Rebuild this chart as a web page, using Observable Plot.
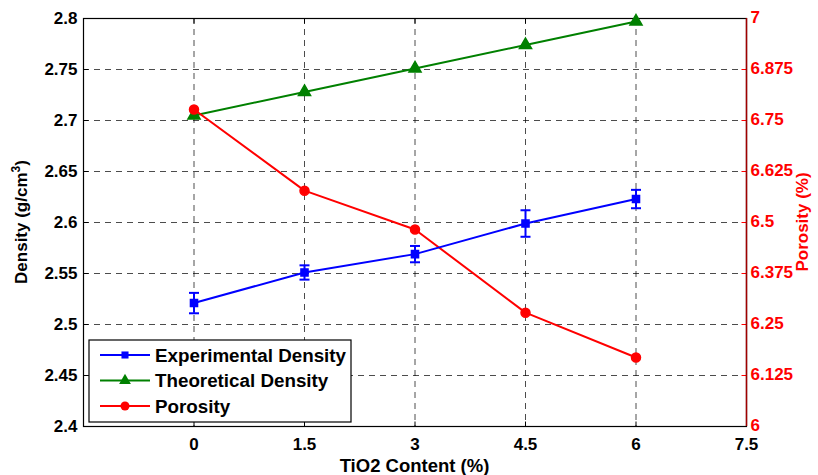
<!DOCTYPE html>
<html>
<head>
<meta charset="utf-8">
<script src="https://cdn.jsdelivr.net/npm/d3@7"></script>
<script src="https://cdn.jsdelivr.net/npm/@observablehq/plot@0.6"></script>
<style>
  html, body { margin: 0; padding: 0; background: #fff; }
  #chart svg { display: block; }
</style>
</head>
<body>
<div id="chart"></div>
<script>
// ---- Data ----
const tio2Content = [0, 1.5, 3, 4.5, 6];
const experimentalDensity = [2.521, 2.551, 2.569, 2.599, 2.623];
const experimentalError = [0.010, 0.007, 0.008, 0.013, 0.009];
const theoreticalDensity = [2.705, 2.728, 2.751, 2.774, 2.797];
const porosity = [6.777, 6.578, 6.483, 6.279, 6.169];

const xTickValues = [0, 1.5, 3, 4.5, 6, 7.5];
const xTickLabels = ["0", "1.5", "3", "4.5", "6", "7.5"];
const densityTicks = [2.4, 2.45, 2.5, 2.55, 2.6, 2.65, 2.7, 2.75, 2.8];
const densityTickLabels = ["2.4", "2.45", "2.5", "2.55", "2.6", "2.65", "2.7", "2.75", "2.8"];
const porosityTicks = [6, 6.125, 6.25, 6.375, 6.5, 6.625, 6.75, 6.875, 7];
const porosityTickLabels = ["6", "6.125", "6.25", "6.375", "6.5", "6.625", "6.75", "6.875", "7"];

const seriesNames = ["Experimental Density", "Theoretical Density", "Porosity"];
const seriesColors = ["#0000ff", "#008000", "#ff0000"];

// ---- Derived tables ----
const densityDomain = [2.4, 2.8];
const porosityDomain = [6, 7];
const toLeft = p => densityDomain[0] + (p - porosityDomain[0]) / (porosityDomain[1] - porosityDomain[0]) * (densityDomain[1] - densityDomain[0]);

const expRows = tio2Content.map((x, i) => ({x, y: experimentalDensity[i], lo: experimentalDensity[i] - experimentalError[i], hi: experimentalDensity[i] + experimentalError[i]}));
const theoRows = tio2Content.map((x, i) => ({x, y: theoreticalDensity[i]}));
const poroRows = tio2Content.map((x, i) => ({x, y: toLeft(porosity[i])}));

const W = 818, H = 475;
const mL = 83, mR = 72, mT = 18, mB = 49;
const xDomain = [-1.5, 7.5];
const pxX = (xDomain[1] - xDomain[0]) / (W - mL - mR);
const pxY = (densityDomain[1] - densityDomain[0]) / (H - mT - mB);
const capHalf = 5 * pxX;
const tickLen = 5;

const font = "'Liberation Sans', Arial, Helvetica, sans-serif";

const chart = Plot.plot({
  width: W, height: H,
  marginLeft: mL, marginRight: mR, marginTop: mT, marginBottom: mB,
  style: {fontFamily: font, fontSize: "17px", fontWeight: "bold", background: "#fff", color: "#000"},
  x: {domain: xDomain},
  y: {domain: densityDomain},
  marks: [
    Plot.gridX(xTickValues.slice(0, 5), {stroke: "#000", strokeOpacity: 0.7, strokeDasharray: "6,5", strokeWidth: 1}),
    Plot.gridY(densityTicks.slice(1, -1), {stroke: "#000", strokeOpacity: 0.7, strokeDasharray: "6,5", strokeWidth: 1}),
    Plot.link(xTickValues, {x1: d => d, x2: d => d, y1: densityDomain[0], y2: densityDomain[0] + tickLen * pxY, stroke: "#000"}),
    Plot.link(xTickValues, {x1: d => d, x2: d => d, y1: densityDomain[1], y2: densityDomain[1] - tickLen * pxY, stroke: "#000"}),
    Plot.link(densityTicks, {x1: xDomain[0], x2: xDomain[0] + tickLen * pxX, y1: d => d, y2: d => d, stroke: "#000"}),
    Plot.link(porosityTicks, {x1: xDomain[1], x2: xDomain[1] - tickLen * pxX, y1: d => toLeft(d), y2: d => toLeft(d), stroke: "#ff0000"}),
    Plot.frame({stroke: "#000", strokeWidth: 1.2}),
    Plot.ruleX([xDomain[1]], {stroke: "#a00000", strokeWidth: 1.5}),
    Plot.axisX(xTickValues, {tickSize: 0, tickPadding: 11, fontSize: 17, fill: "#000",
      tickFormat: (d, i) => xTickLabels[i], label: null}),
    Plot.axisY(densityTicks, {anchor: "left", tickSize: 0, tickPadding: 6, fontSize: 17, fill: "#000",
      tickFormat: (d, i) => densityTickLabels[i], label: null}),
    Plot.axisY(porosityTicks.map(toLeft), {anchor: "right", tickSize: 0, tickPadding: 4, fontSize: 17, fill: "#ff0000",
      dy: -1, tickFormat: (d, i) => porosityTickLabels[i], label: null}),
    Plot.line(theoRows, {x: "x", y: "y", stroke: seriesColors[1], strokeWidth: 2}),
    Plot.dot(theoRows, {x: "x", y: "y", symbol: "triangle", r: 4.5, fill: seriesColors[1], stroke: seriesColors[1]}),
    Plot.line(poroRows, {x: "x", y: "y", stroke: seriesColors[2], strokeWidth: 2}),
    Plot.dot(poroRows, {x: "x", y: "y", symbol: "circle", r: 4.5, fill: seriesColors[2], stroke: seriesColors[2]}),
    Plot.ruleX(expRows, {x: "x", y1: "lo", y2: "hi", stroke: seriesColors[0], strokeWidth: 2}),
    Plot.link(expRows, {x1: d => d.x - capHalf, x2: d => d.x + capHalf, y1: "lo", y2: "lo", stroke: seriesColors[0], strokeWidth: 2}),
    Plot.link(expRows, {x1: d => d.x - capHalf, x2: d => d.x + capHalf, y1: "hi", y2: "hi", stroke: seriesColors[0], strokeWidth: 2}),
    Plot.line(expRows, {x: "x", y: "y", stroke: seriesColors[0], strokeWidth: 2}),
    Plot.dot(expRows, {x: "x", y: "y", symbol: "square", r: 4, fill: seriesColors[0], stroke: seriesColors[0]})
  ]
});

const svg = d3.select(chart);

// ---- Axis titles ----
const titles = svg.append("g").attr("font-family", font).attr("font-weight", "bold").attr("font-size", 17);
const cy = mT + (H - mT - mB) / 2;
const dens = titles.append("text").attr("text-anchor", "middle").attr("fill", "#000")
  .attr("transform", `translate(27,${cy}) rotate(-90)`);
dens.append("tspan").text("Density (g/cm");
dens.append("tspan").attr("font-size", 12).attr("dy", "-0.55em").text("3");
dens.append("tspan").attr("dy", "0.4em").text(")");
titles.append("text").attr("text-anchor", "middle").attr("fill", "#ff0000")
  .attr("transform", `translate(808,${cy}) rotate(-90)`).text("Porosity (%)");
titles.append("text").attr("text-anchor", "middle").attr("fill", "#000").attr("font-size", 18.5)
  .attr("x", mL + (W - mL - mR) / 2).attr("y", 472).text("TiO2 Content (%)");

// ---- Legend ----
const lg = svg.append("g").attr("font-family", font).attr("font-weight", "bold");
const lx = 89, ly = 340, lw = 262, lh = 82;
lg.append("rect").attr("x", lx).attr("y", ly).attr("width", lw).attr("height", lh)
  .attr("fill", "#fff").attr("stroke", "#000").attr("stroke-width", 1.2);
const symbols = [d3.symbolSquare, d3.symbolTriangle, d3.symbolCircle];
const symSizes = [50, 60, 64];
seriesNames.forEach((name, i) => {
  const yy = ly + 15 + i * 25.5;
  lg.append("line").attr("x1", lx + 11).attr("x2", lx + 61).attr("y1", yy).attr("y2", yy)
    .attr("stroke", seriesColors[i]).attr("stroke-width", 2);
  lg.append("path").attr("d", d3.symbol(symbols[i], symSizes[i])())
    .attr("transform", `translate(${lx + 36},${yy})`).attr("fill", seriesColors[i]);
  lg.append("text").attr("x", lx + 66).attr("y", yy).attr("dy", "0.36em").attr("text-anchor", "start")
    .attr("font-size", 18.8).attr("fill", "#000").text(name);
});

document.getElementById("chart").appendChild(chart);
</script>
</body>
</html>
